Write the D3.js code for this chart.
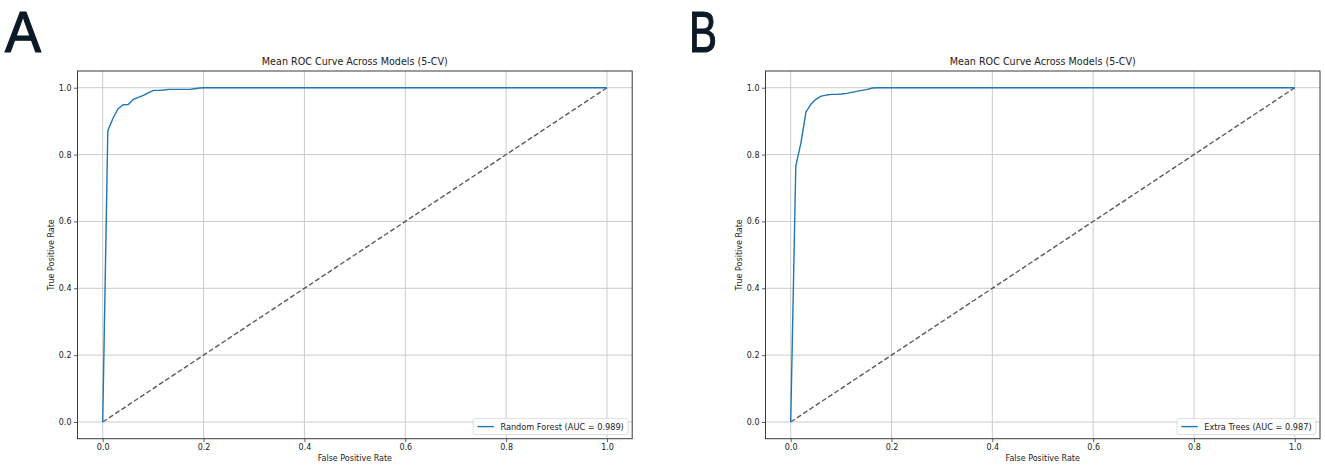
<!DOCTYPE html>
<html>
<head>
<meta charset="utf-8">
<script src="https://cdn.jsdelivr.net/npm/d3@7"></script>
<style>
  body { margin: 0; background: #fff; }
  svg { display: block; }
  text { font-family: "DejaVu Sans", sans-serif; fill: #222; }
</style>
</head>
<body>
<div id="chart"></div>
<script>
// mean ROC curves (fpr on a 0..1 grid, tpr averaged over 5 folds)
var fprA = [0, 0.0101, 0.0202, 0.0303, 0.0404, 0.0505, 0.0606, 0.0707, 0.0808, 0.0909, 0.101,
            0.111, 0.121, 0.131, 0.141, 0.152, 0.162, 0.172, 0.182, 0.192, 0.202, 1.0];
var tprA = [0, 0.871, 0.908, 0.937, 0.949, 0.950, 0.965, 0.971, 0.977, 0.985, 0.992,
            0.992, 0.993, 0.995, 0.995, 0.995, 0.995, 0.995, 0.997, 0.999, 1.0, 1.0];

var fprB = [0, 0.0101, 0.0202, 0.0303, 0.0404, 0.0505, 0.0606, 0.0707, 0.0808, 0.0909, 0.101,
            0.111, 0.121, 0.131, 0.141, 0.152, 0.162, 0.172, 1.0];
var tprB = [0, 0.766, 0.834, 0.928, 0.951, 0.966, 0.975, 0.978, 0.980, 0.980, 0.981,
            0.983, 0.986, 0.989, 0.992, 0.995, 0.999, 1.0, 1.0];

var panelLetters = ["A", "B"];
var legendLabels = ["Random Forest (AUC = 0.989)", "Extra Trees (AUC = 0.987)"];
var tickValues = [0, 0.2, 0.4, 0.6, 0.8, 1.0];
var chanceLine = [0, 1];
var title = "Mean ROC Curve Across Models (5-CV)";

var W = 1325, H = 467;

var svg = d3.select("#chart")
  .append("svg")
    .attr("width", W)
    .attr("height", H);

var panels = [
  {left: 77.5, right: 632.2, top: 71, bottom: 438.7, letterX: 5, letterW: 36, fpr: fprA, tpr: tprA},
  {left: 765.5, right: 1320, top: 71, bottom: 438.7, letterX: 689, letterW: 28, fpr: fprB, tpr: tprB}
];

panels.forEach(function(p, i) {
  var width = p.right - p.left,
      height = p.bottom - p.top;

  // panel letter
  svg.append("text")
    .attr("x", p.letterX)
    .attr("y", 52)
    .attr("textLength", p.letterW)
    .attr("lengthAdjust", "spacingAndGlyphs")
    .style("font-family", "'Liberation Sans', Arial, sans-serif")
    .style("font-size", "57px")
    .style("fill", "#0b1a26")
    .style("stroke", "#0b1a26")
    .style("stroke-width", 1.2)
    .text(panelLetters[i]);

  var g = svg.append("g")
    .attr("transform", "translate(" + p.left + "," + p.top + ")");

  var x = d3.scaleLinear().domain([-0.05, 1.05]).range([0, width]);
  var y = d3.scaleLinear().domain([-0.05, 1.05]).range([height, 0]);

  // grid
  g.append("g")
    .selectAll("line.gx")
    .data(tickValues)
    .enter().append("line")
      .attr("x1", function(d) { return x(d); })
      .attr("x2", function(d) { return x(d); })
      .attr("y1", 0).attr("y2", height)
      .attr("stroke", "#cccccc").attr("stroke-width", 1);
  g.append("g")
    .selectAll("line.gy")
    .data(tickValues)
    .enter().append("line")
      .attr("y1", function(d) { return y(d); })
      .attr("y2", function(d) { return y(d); })
      .attr("x1", 0).attr("x2", width)
      .attr("stroke", "#cccccc").attr("stroke-width", 1);

  // chance diagonal
  g.append("line")
    .attr("x1", x(chanceLine[0])).attr("y1", y(chanceLine[0]))
    .attr("x2", x(chanceLine[1])).attr("y2", y(chanceLine[1]))
    .attr("stroke", "#5a5a5a")
    .attr("stroke-width", 1.4)
    .attr("stroke-dasharray", "5,2.5");

  // ROC curve
  var pts = p.fpr.map(function(f, k) { return [f, p.tpr[k]]; });
  g.append("path")
    .datum(pts)
    .attr("fill", "none")
    .attr("stroke", "#1f77b4")
    .attr("stroke-width", 1.4)
    .attr("stroke-linejoin", "round")
    .attr("d", d3.line().x(function(d) { return x(d[0]); }).y(function(d) { return y(d[1]); }));

  // axes
  var xAxis = g.append("g")
    .attr("transform", "translate(0," + height + ")")
    .call(d3.axisBottom(x).tickValues(tickValues).tickFormat(d3.format(".1f")).tickSize(3.5).tickPadding(2.5));
  var yAxis = g.append("g")
    .call(d3.axisLeft(y).tickValues(tickValues).tickFormat(d3.format(".1f")).tickSize(3.5).tickPadding(2.5));
  [xAxis, yAxis].forEach(function(a) {
    a.select(".domain").remove();
    a.selectAll("line").attr("stroke", "#333").attr("stroke-width", 0.8);
    a.selectAll("text")
      .style("font-family", "'DejaVu Sans', sans-serif")
      .style("font-size", "8px")
      .style("fill", "#222");
  });

  // spines
  g.append("rect")
    .attr("width", width).attr("height", height)
    .attr("fill", "none")
    .attr("stroke", "#3a3a3a")
    .attr("stroke-width", 1);

  // title and axis labels
  g.append("text")
    .attr("x", width / 2).attr("y", -6)
    .style("text-anchor", "middle")
    .style("font-size", "9.6px")
    .text(title);
  g.append("text")
    .attr("x", width / 2).attr("y", height + 22.5)
    .style("text-anchor", "middle")
    .style("font-size", "8px")
    .text("False Positive Rate");
  g.append("text")
    .attr("transform", "rotate(-90)")
    .attr("x", -height / 2).attr("y", -24)
    .style("text-anchor", "middle")
    .style("font-size", "8px")
    .text("True Positive Rate");

  // legend, lower right
  var leg = g.append("g");
  var legText = leg.append("text")
    .style("font-size", "8.2px")
    .text(legendLabels[i]);
  var tw = legText.node().getComputedTextLength();
  var fs = 8.2, pad = 0.4 * fs, handle = 2 * fs, gap = 0.8 * fs;
  var bw = pad * 2 + handle + gap + tw + 2,
      bh = 16;
  var bx = width - 0.5 * fs - bw,
      by = height - 0.5 * fs - bh;
  leg.insert("rect", "text")
    .attr("x", bx).attr("y", by)
    .attr("width", bw).attr("height", bh)
    .attr("rx", 2)
    .attr("fill", "#fff").attr("fill-opacity", 0.8)
    .attr("stroke", "#d6d6d6").attr("stroke-width", 0.8);
  leg.append("line")
    .attr("x1", bx + pad + 1).attr("x2", bx + pad + 1 + handle)
    .attr("y1", by + bh / 2).attr("y2", by + bh / 2)
    .attr("stroke", "#1f77b4").attr("stroke-width", 1.4);
  legText
    .attr("x", bx + pad + 1 + handle + gap)
    .attr("y", by + bh / 2 + 3);
});
</script>
</body>
</html>
